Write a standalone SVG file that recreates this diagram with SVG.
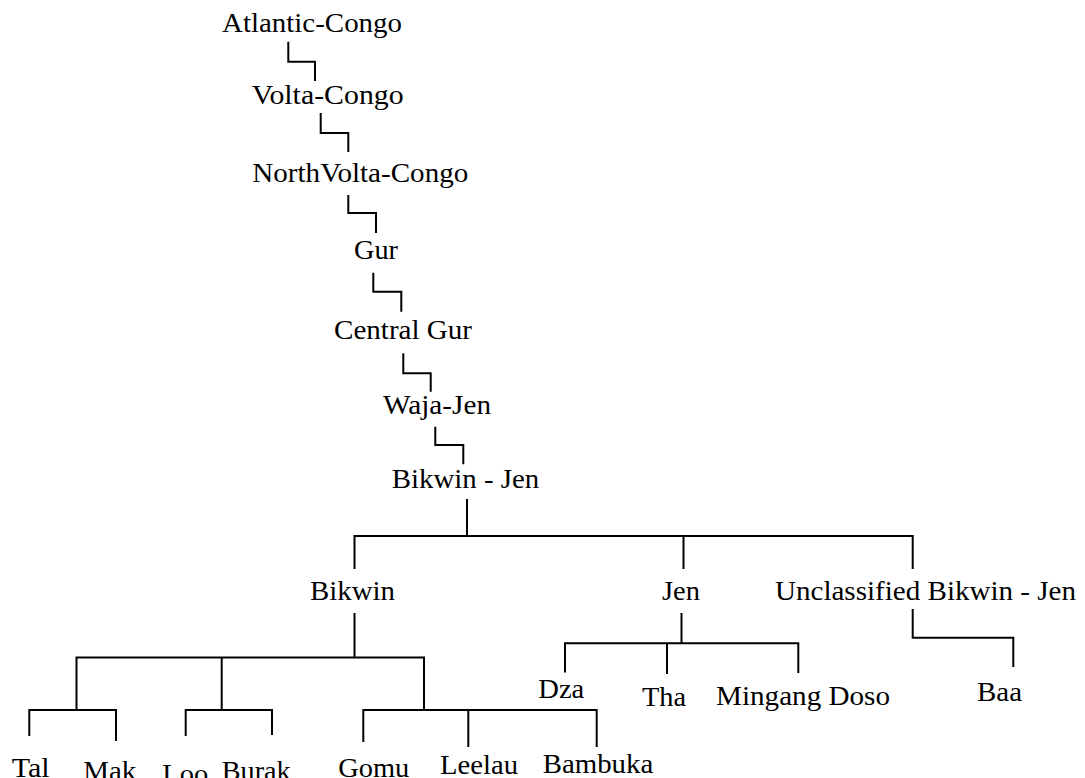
<svg xmlns="http://www.w3.org/2000/svg" width="1085" height="778" viewBox="0 0 1085 778">
<style>
text{font-family:"Liberation Serif","Times New Roman","DejaVu Serif",serif;font-size:27.5px;fill:#000}
.c{fill:none;stroke:#000;stroke-width:2}
</style>
<rect width="1085" height="778" fill="#fff"/>
<g id="connectors">
<path class="c" d="M288.3,41.7V61.7H315V81"/>
<path class="c" d="M320.7,113V133H348.3V152"/>
<path class="c" d="M348.3,195V213H376V233"/>
<path class="c" d="M373.3,272.7V291.7H401.3V311.7"/>
<path class="c" d="M403.3,353.3V373.3H430.7V391.7"/>
<path class="c" d="M435.3,426.7V445H463.3V464.3"/>
<path class="c" d="M467,499V536M354.5,569V536H912.7V569M683.5,536V569"/>
<path class="c" d="M354.5,613V657.5M76.5,710V657.5H424V710M221.7,657.5V710"/>
<path class="c" d="M29.3,736V710H116V741"/>
<path class="c" d="M185.7,736V710H272V735"/>
<path class="c" d="M363.3,742V710H596.7V747M468.3,710V747"/>
<path class="c" d="M681.5,613V643.3M565,672.5V643.3H798.3V673M667,643.3V674"/>
<path class="c" d="M912.7,609V637.7H1013.3V667"/>
</g>
<g id="atlantic-congo"><text x="222" y="32" textLength="180" lengthAdjust="spacingAndGlyphs">Atlantic-Congo</text></g>
<g id="volta-congo"><text x="251.7" y="104" textLength="152" lengthAdjust="spacingAndGlyphs">Volta-Congo</text></g>
<g id="northvolta-congo"><text x="252.3" y="181.5" textLength="216" lengthAdjust="spacingAndGlyphs">NorthVolta-Congo</text></g>
<g id="gur"><text x="354" y="259" textLength="44" lengthAdjust="spacingAndGlyphs">Gur</text></g>
<g id="central-gur"><text x="334" y="338.5" textLength="138" lengthAdjust="spacingAndGlyphs">Central Gur</text></g>
<g id="waja-jen"><text x="383" y="414" textLength="108" lengthAdjust="spacingAndGlyphs">Waja-Jen</text></g>
<g id="bikwin-jen"><text x="391.7" y="488" textLength="147.6" lengthAdjust="spacingAndGlyphs">Bikwin - Jen</text></g>
<g id="bikwin"><text x="310" y="600" textLength="85" lengthAdjust="spacingAndGlyphs">Bikwin</text></g>
<g id="jen"><text x="662" y="600" textLength="38" lengthAdjust="spacingAndGlyphs">Jen</text></g>
<g id="unclassified"><text x="775" y="600" textLength="301" lengthAdjust="spacingAndGlyphs">Unclassified Bikwin - Jen</text></g>
<g id="dza"><text x="538.3" y="698.3" textLength="46" lengthAdjust="spacingAndGlyphs">Dza</text></g>
<g id="tha"><text x="642" y="705.5" textLength="44" lengthAdjust="spacingAndGlyphs">Tha</text></g>
<g id="mingang-doso"><text x="716" y="705" textLength="174" lengthAdjust="spacingAndGlyphs">Mingang Doso</text></g>
<g id="baa"><text x="977" y="701" textLength="45" lengthAdjust="spacingAndGlyphs">Baa</text></g>
<g id="tal"><text x="11.7" y="777" textLength="38" lengthAdjust="spacingAndGlyphs">Tal</text></g>
<g id="mak"><text x="83.3" y="780" textLength="53" lengthAdjust="spacingAndGlyphs">Mak</text></g>
<g id="loo"><text x="162.3" y="783" textLength="46" lengthAdjust="spacingAndGlyphs">Loo</text></g>
<g id="burak"><text x="221.7" y="780" textLength="69" lengthAdjust="spacingAndGlyphs">Burak</text></g>
<g id="gomu"><text x="338.3" y="777" textLength="71" lengthAdjust="spacingAndGlyphs">Gomu</text></g>
<g id="leelau"><text x="440" y="774" textLength="78" lengthAdjust="spacingAndGlyphs">Leelau</text></g>
<g id="bambuka"><text x="542.7" y="773" textLength="110.6" lengthAdjust="spacingAndGlyphs">Bambuka</text></g>
</svg>
